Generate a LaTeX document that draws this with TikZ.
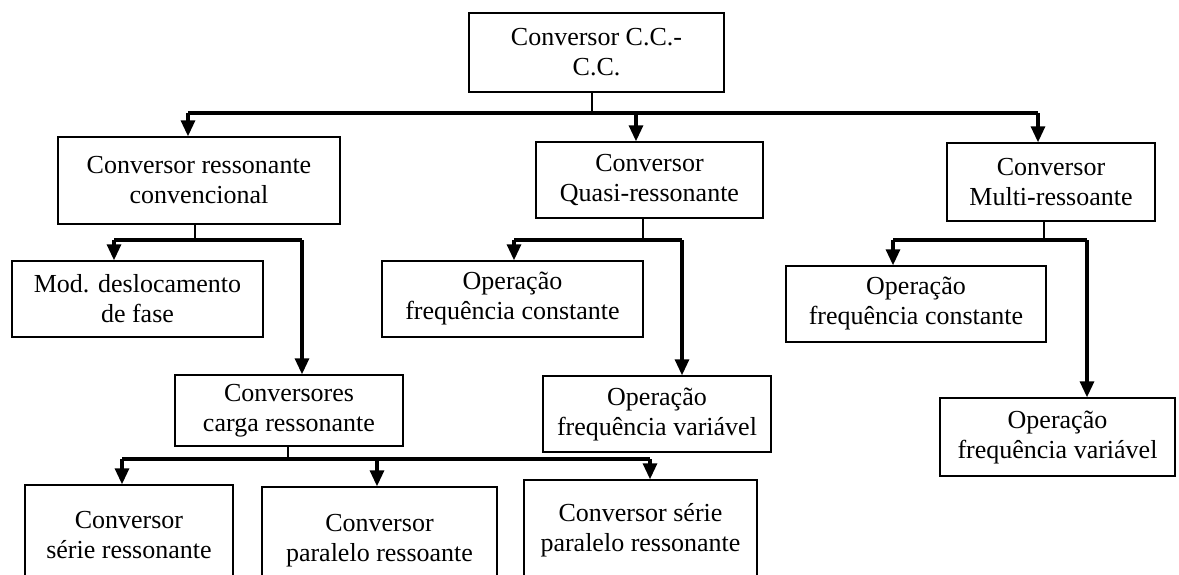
\documentclass[tikz,border=0pt]{standalone}
\usepackage{fontspec}
\setmainfont{Liberation Serif}
\usetikzlibrary{arrows.meta}
\begin{document}
\begin{tikzpicture}[x=1pt,y=-1pt,
  box/.style={draw=black,line width=1.4pt,align=center,inner sep=0pt,
    font=\fontsize{26}{30}\selectfont},
  thinln/.style={line width=1.4pt},
  busln/.style={line width=3.2pt},
  arr/.style={line width=3.2pt,-{Triangle[width=14pt,length=16pt]}}]
\useasboundingbox (0,0) rectangle (1179,574);
\clip (0,0) rectangle (1179,574);
% nodes
\node[box,minimum width=255pt,minimum height=79pt] (top) at (596.5,52.5) {Conversor C.C.-\\C.C.};
\node[box,minimum width=282pt,minimum height=87pt] (L1) at (199,180.5) {Conversor ressonante\\convencional};
\node[box,minimum width=227pt,minimum height=76pt] (Q) at (649.5,180) {Conversor\\Quasi-ressonante};
\node[box,minimum width=208pt,minimum height=78pt] (M) at (1051,182) {Conversor\\Multi-ressoante};
\node[box,minimum width=251pt,minimum height=76pt] (Mod) at (137.5,299) {Mod. deslocamento\\de fase};
\node[box,minimum width=261pt,minimum height=76pt] (Qc) at (512.5,299) {Operação\\frequência constante};
\node[box,minimum width=228pt,minimum height=76pt] (Qv) at (657,414) {Operação\\frequência variável};
\node[box,minimum width=260pt,minimum height=76pt] (Mc) at (916,304) {Operação\\frequência constante};
\node[box,minimum width=235pt,minimum height=78pt] (Mv) at (1057.5,437) {Operação\\frequência variável};
\node[box,minimum width=228pt,minimum height=71pt] (Cc) at (289,410.5) {Conversores\\carga ressonante};
\node[box,minimum width=208pt,minimum height=100pt] (B1) at (129,535) {Conversor\\série ressonante};
\node[box,minimum width=235pt,minimum height=108pt] (B2) at (379.5,541) {Conversor\\paralelo ressoante};
\node[box,minimum width=233pt,minimum height=100pt] (B3) at (640.5,530) {Conversor série\\paralelo ressonante};
% top level
\coordinate (t0) at (592,113);
\coordinate (t1) at (188,113);
\coordinate (t2) at (636,113);
\coordinate (t3) at (1038,113);
\draw[thinln] (top.south -| t0) -- (t0);
\draw[busln] (t1) -- (t3);
\draw[arr] (t1) -- (t1 |- L1.north);
\draw[arr] (t2) -- (t2 |- Q.north);
\draw[arr] (t3) -- (t3 |- M.north);
% L1 children
\coordinate (l0) at (195,240);
\coordinate (l1) at (114,240);
\coordinate (l2) at (302,240);
\draw[thinln] (L1.south -| l0) -- (l0);
\draw[busln] (l1) -- (l2);
\draw[arr] (l1) -- (l1 |- Mod.north);
\draw[arr] (l2) -- (l2 |- Cc.north);
% Q children
\coordinate (q0) at (643,240);
\coordinate (q1) at (514,240);
\coordinate (q2) at (682,240);
\draw[thinln] (Q.south -| q0) -- (q0);
\draw[busln] (q1) -- (q2);
\draw[arr] (q1) -- (q1 |- Qc.north);
\draw[arr] (q2) -- (q2 |- Qv.north);
% M children
\coordinate (m0) at (1044,240);
\coordinate (m1) at (893,240);
\coordinate (m2) at (1087,240);
\draw[thinln] (M.south -| m0) -- (m0);
\draw[busln] (m1) -- (m2);
\draw[arr] (m1) -- (m1 |- Mc.north);
\draw[arr] (m2) -- (m2 |- Mv.north);
% Cc children
\coordinate (c0) at (288,459);
\coordinate (c1) at (122,459);
\coordinate (c2) at (377,459);
\coordinate (c3) at (650,459);
\draw[thinln] (Cc.south -| c0) -- (c0);
\draw[busln] (c1) -- (c3);
\draw[arr] (c1) -- (c1 |- B1.north);
\draw[arr] (c2) -- (c2 |- B2.north);
\draw[arr] (c3) -- (c3 |- B3.north);
\end{tikzpicture}
\end{document}
